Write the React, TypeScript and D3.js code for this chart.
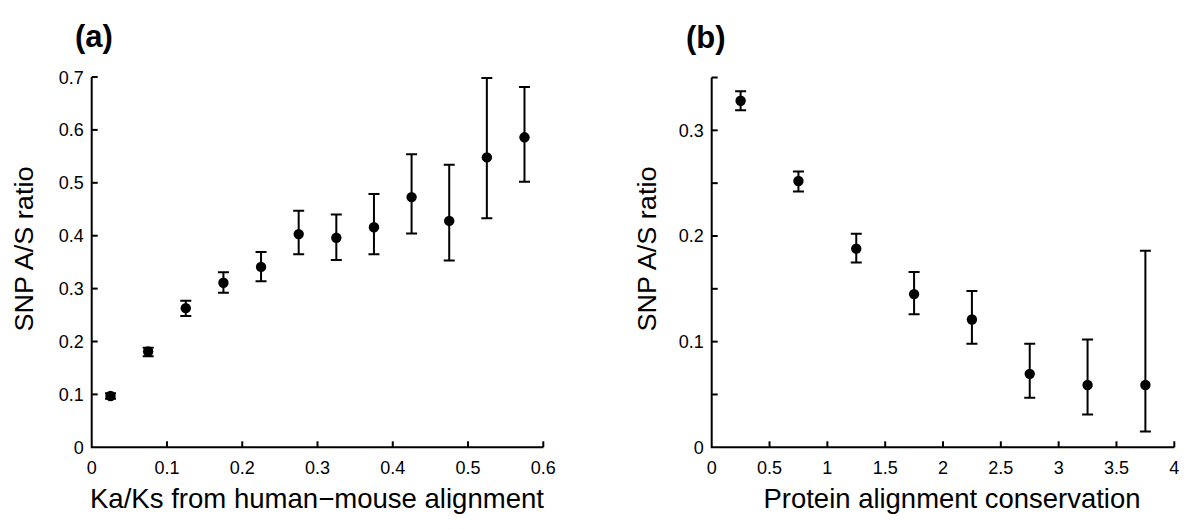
import React from "react";
import * as d3 from "d3";

// Panel (a): SNP A/S ratio against Ka/Ks
const kaksX = [0.025, 0.075, 0.125, 0.175, 0.225, 0.275, 0.325, 0.375, 0.425, 0.475, 0.525, 0.575];
const kaksMean = [0.097, 0.181, 0.263, 0.311, 0.341, 0.403, 0.396, 0.416, 0.473, 0.428, 0.548, 0.586];
const kaksLow = [0.092, 0.172, 0.248, 0.292, 0.314, 0.365, 0.354, 0.365, 0.404, 0.353, 0.433, 0.502];
const kaksHigh = [0.102, 0.188, 0.277, 0.331, 0.369, 0.447, 0.44, 0.479, 0.554, 0.534, 0.698, 0.681];

// Panel (b): SNP A/S ratio against protein alignment conservation
const consX = [0.25, 0.75, 1.25, 1.75, 2.25, 2.75, 3.25, 3.75];
const consMean = [0.328, 0.252, 0.188, 0.145, 0.121, 0.0695, 0.059, 0.059];
const consLow = [0.319, 0.242, 0.175, 0.126, 0.098, 0.047, 0.031, 0.015];
const consHigh = [0.337, 0.261, 0.202, 0.166, 0.148, 0.098, 0.102, 0.186];

const kaksXTicks = [0, 0.1, 0.2, 0.3, 0.4, 0.5, 0.6];
const kaksYTicks = [0, 0.1, 0.2, 0.3, 0.4, 0.5, 0.6, 0.7];
const consXTicks = [0, 0.5, 1, 1.5, 2, 2.5, 3, 3.5, 4];
const consYTicks = [0, 0.05, 0.1, 0.15, 0.2, 0.25, 0.3, 0.35];
const consYLabels = [0, 0.1, 0.2, 0.3];

const width = 1200;
const height = 529;
const font = "'Liberation Sans', Arial, Helvetica, sans-serif";

export default function App() {
    const svgRef = React.useRef(null);

    React.useEffect(() => {
        document.body.style.margin = "0";
        const svg = d3.select(svgRef.current);
        svg.selectAll("*").remove();

        drawPanel(svg, {
            tag: "(a)", tagX: 75, tagY: 47,
            xDomain: [0, 0.6], xRange: [91.7, 543.3],
            yDomain: [0, 0.7], yRange: [447.3, 77],
            xTicks: kaksXTicks, yTicks: kaksYTicks, yLabels: kaksYTicks,
            xs: kaksX, mean: kaksMean, low: kaksLow, high: kaksHigh,
            xTitle: "Ka/Ks from human\u2212mouse alignment", xTitleX: 317, xTitleLen: 454,
            yTitleX: 33
        });

        drawPanel(svg, {
            tag: "(b)", tagX: 686, tagY: 48,
            xDomain: [0, 4], xRange: [711.7, 1174.3],
            yDomain: [0, 0.35], yRange: [447.3, 77.5],
            xTicks: consXTicks, yTicks: consYTicks, yLabels: consYLabels,
            xs: consX, mean: consMean, low: consLow, high: consHigh,
            xTitle: "Protein alignment conservation", xTitleX: 952, xTitleLen: 377,
            yTitleX: 656
        });
    }, []);

    const drawPanel = (svg, p) => {
        const x = d3.scaleLinear().domain(p.xDomain).range(p.xRange);
        const y = d3.scaleLinear().domain(p.yDomain).range(p.yRange);
        const fmt = v => String(+v.toFixed(2));
        const g = svg.append("g");

        // axis lines, left and bottom only
        g.append("path")
            .attr("d", `M${x.range()[0]},${y.range()[1]}V${y.range()[0]}H${x.range()[1]}`)
            .attr("fill", "none").attr("stroke", "#000").attr("stroke-width", 2);

        // ticks point inward
        g.selectAll(".xt").data(p.xTicks.slice(1)).enter().append("line")
            .attr("x1", d => x(d)).attr("x2", d => x(d))
            .attr("y1", y(0)).attr("y2", y(0) - 6)
            .attr("stroke", "#000").attr("stroke-width", 2);
        g.selectAll(".yt").data(p.yTicks.slice(1)).enter().append("line")
            .attr("x1", x(0)).attr("x2", x(0) + 6)
            .attr("y1", d => y(d)).attr("y2", d => y(d))
            .attr("stroke", "#000").attr("stroke-width", 2);

        // tick labels
        g.selectAll(".xl").data(p.xTicks).enter().append("text")
            .attr("x", d => x(d)).attr("y", y(0) + 26.5)
            .attr("text-anchor", "middle")
            .style("font-family", font).style("font-size", "18px")
            .text(fmt);
        g.selectAll(".yl").data(p.yLabels).enter().append("text")
            .attr("x", x(0) - 8).attr("y", d => y(d) + 6.5)
            .attr("text-anchor", "end")
            .style("font-family", font).style("font-size", "18px")
            .text(fmt);

        // error bars
        const cap = 5.5;
        p.xs.forEach((xv, i) => {
            const cx = x(xv);
            g.append("path")
                .attr("d", `M${cx},${y(p.low[i])}V${y(p.high[i])}` +
                    `M${cx - cap},${y(p.low[i])}H${cx + cap}` +
                    `M${cx - cap},${y(p.high[i])}H${cx + cap}`)
                .attr("fill", "none").attr("stroke", "#000").attr("stroke-width", 2);
        });

        // points
        g.selectAll(".pt").data(p.xs).enter().append("circle")
            .attr("cx", d => x(d)).attr("cy", (d, i) => y(p.mean[i]))
            .attr("r", 5.2).attr("fill", "#000");

        // titles
        g.append("text")
            .attr("x", p.xTitleX).attr("y", 508)
            .attr("text-anchor", "middle")
            .attr("textLength", p.xTitleLen).attr("lengthAdjust", "spacingAndGlyphs")
            .style("font-family", font).style("font-size", "27.5px")
            .text(p.xTitle);
        g.append("text")
            .attr("transform", `translate(${p.yTitleX},249) rotate(-90)`)
            .attr("text-anchor", "middle")
            .attr("textLength", 165).attr("lengthAdjust", "spacingAndGlyphs")
            .style("font-family", font).style("font-size", "26px")
            .text("SNP A/S ratio");

        g.append("text")
            .attr("x", p.tagX).attr("y", p.tagY)
            .style("font-family", font).style("font-size", "31px").style("font-weight", "bold")
            .text(p.tag);
    };

    return (
        <svg ref={svgRef} width={width} height={height} style={{display: "block", background: "#fff"}}></svg>
    );
}
